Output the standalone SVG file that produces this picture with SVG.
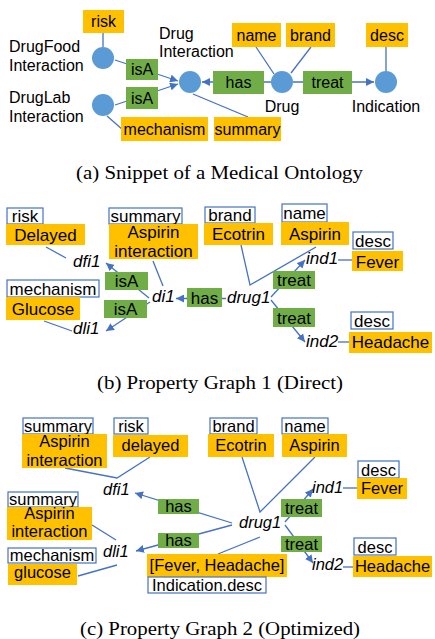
<svg xmlns="http://www.w3.org/2000/svg" width="435" height="639" viewBox="0 0 435 639">
<style>
.o{fill:#FFC000}
.g{fill:#70AD47}
.w{fill:#fff;stroke:#4472C4;stroke-width:1.2}
.c{fill:#5B9BD5}
.ln{stroke:#4472C4;stroke-width:1.3;fill:none}
.ar{marker-end:url(#ah)}
text{font-family:"Liberation Sans",Arial,sans-serif;fill:#000}
.a{font-size:16px}
.b{font-size:17px}
.cc{font-size:16.5px}
.m{text-anchor:middle}
.i{font-style:italic}
.cap{font-family:"Liberation Serif","Times New Roman",serif;font-size:18.5px}
</style>
<defs>
<marker id="ah" viewBox="0 0 10 10" refX="10" refY="5" markerWidth="8" markerHeight="8" markerUnits="userSpaceOnUse" orient="auto">
<path d="M0,0 L10,5 L0,10 z" fill="#4472C4"/>
</marker>
</defs>
<rect width="435" height="639" fill="#fff"/>

<g id="connectors">
<!-- (a) -->
<line class="ln" x1="103" y1="33" x2="103" y2="47"/>
<line class="ln ar" x1="115" y1="60" x2="178" y2="81"/>
<line class="ln ar" x1="115" y1="105" x2="178" y2="84"/>
<line class="ln" x1="107" y1="116" x2="123" y2="130"/>
<line class="ln" x1="193" y1="94" x2="248" y2="117"/>
<line class="ln ar" x1="271" y1="82" x2="202" y2="82"/>
<line class="ln" x1="256" y1="47" x2="274" y2="74"/>
<line class="ln" x1="311" y1="47" x2="291" y2="73"/>
<line class="ln ar" x1="293" y1="82" x2="374" y2="82"/>
<line class="ln" x1="386" y1="47" x2="386" y2="71"/>
<!-- (b) -->
<line class="ln" x1="46" y1="247" x2="66" y2="258"/>
<line class="ln ar" x1="149" y1="298" x2="106" y2="263"/>
<line class="ln ar" x1="150" y1="302" x2="106" y2="331"/>
<line class="ln" x1="44" y1="321" x2="72" y2="331"/>
<line class="ln" x1="153" y1="261" x2="163" y2="286"/>
<line class="ln ar" x1="226" y1="298.5" x2="176" y2="298.5"/>
<polyline class="ln" points="241,245 250,285 316,247"/>
<line class="ln ar" x1="271" y1="297" x2="305" y2="260"/>
<line class="ln ar" x1="271" y1="300" x2="305" y2="342"/>
<line class="ln" x1="338" y1="260" x2="352" y2="260"/>
<line class="ln" x1="338" y1="342" x2="349" y2="342"/>
<!-- (c) -->
<polyline class="ln" points="65,468 117,478 150,457"/>
<line class="ln ar" x1="232" y1="523" x2="135" y2="493"/>
<line class="ln ar" x1="232" y1="525" x2="136" y2="551"/>
<line class="ln" x1="92" y1="525" x2="116" y2="540"/>
<line class="ln" x1="78" y1="576" x2="117" y2="565"/>
<line class="ln" x1="260" y1="537" x2="218" y2="554"/>
<polyline class="ln" points="242,457 260,512 315,457"/>
<line class="ln ar" x1="285" y1="522" x2="313" y2="489"/>
<line class="ln ar" x1="285" y1="525" x2="313" y2="563"/>
<line class="ln" x1="343" y1="488" x2="357" y2="488"/>
<line class="ln" x1="343" y1="567" x2="353" y2="567"/>
</g>

<!-- (a) Medical Ontology -->
<g id="a-risk"><rect class="o" x="83" y="10" width="41" height="23"/><text class="a m" x="103.5" y="27">risk</text></g>
<g id="a-drugfood"><circle class="c" cx="103" cy="58" r="11"/><text class="a" x="9" y="52">DrugFood</text><text class="a" x="9" y="71">Interaction</text></g>
<g id="a-druglab"><circle class="c" cx="103" cy="105" r="11"/><text class="a" x="9" y="103">DrugLab</text><text class="a" x="9" y="122">Interaction</text></g>
<g id="a-isa1"><rect class="g" x="126" y="59" width="32" height="21"/><text class="a m" x="142" y="75">isA</text></g>
<g id="a-isa2"><rect class="g" x="126" y="87" width="32" height="22"/><text class="a m" x="142" y="104">isA</text></g>
<g id="a-mechanism"><rect class="o" x="121" y="117" width="87" height="24"/><text class="a m" x="164.5" y="135">mechanism</text></g>
<g id="a-druginteraction"><circle class="c" cx="190" cy="82" r="11"/><text class="a" x="159" y="39">Drug</text><text class="a" x="159" y="57">Interaction</text></g>
<g id="a-summary"><rect class="o" x="214" y="117" width="67" height="24"/><text class="a m" x="247.5" y="135">summary</text></g>
<g id="a-has"><rect class="g" x="213" y="71" width="51" height="23"/><text class="a m" x="238.5" y="88">has</text></g>
<g id="a-name"><rect class="o" x="232" y="23" width="49" height="24"/><text class="a m" x="256.5" y="41">name</text></g>
<g id="a-brand"><rect class="o" x="286" y="23" width="49" height="24"/><text class="a m" x="310.5" y="41">brand</text></g>
<g id="a-drug"><circle class="c" cx="282" cy="82" r="11"/><text class="a m" x="282" y="112">Drug</text></g>
<g id="a-treat"><rect class="g" x="303" y="71" width="49" height="23"/><text class="a m" x="327.5" y="88">treat</text></g>
<g id="a-desc"><rect class="o" x="366" y="23" width="42" height="24"/><text class="a m" x="387" y="41">desc</text></g>
<g id="a-indication"><circle class="c" cx="386" cy="82" r="11"/><text class="a m" x="386" y="112">Indication</text></g>
<text id="cap-a" class="cap" x="76" y="179" textLength="287" lengthAdjust="spacingAndGlyphs">(a) Snippet of a Medical Ontology</text>

<!-- (b) Property Graph 1 -->
<g id="b-risk"><rect class="w" x="7" y="208" width="36" height="16"/><text class="b m" x="25" y="222">risk</text></g>
<g id="b-delayed"><rect class="o" x="6" y="224" width="79" height="21"/><text class="b m" x="45.5" y="241">Delayed</text></g>
<g id="b-summary"><rect class="w" x="109" y="208" width="73" height="16"/><text class="b m" x="145.5" y="222">summary</text></g>
<g id="b-aspint"><rect class="o" x="109" y="224" width="89" height="35"/><text class="b m" x="153.5" y="238">Aspirin</text><text class="b m" x="153.5" y="257">interaction</text></g>
<g id="b-dfi1"><text class="b i" x="73" y="267">dfi1</text></g>
<g id="b-isa1"><rect class="g" x="105" y="272" width="43" height="18"/><text class="b m" x="126.5" y="287">isA</text></g>
<g id="b-di1"><text class="b i" x="152" y="302">di1</text></g>
<g id="b-isa2"><rect class="g" x="104" y="300" width="43" height="18"/><text class="b m" x="125.5" y="315">isA</text></g>
<g id="b-mechanism"><rect class="w" x="7" y="280" width="92" height="17"/><text class="b m" x="53" y="295">mechanism</text></g>
<g id="b-glucose"><rect class="o" x="6" y="297" width="74" height="23"/><text class="b m" x="43" y="315">Glucose</text></g>
<g id="b-dli1"><text class="b i" x="73" y="334">dli1</text></g>
<g id="b-has"><rect class="g" x="187" y="288" width="35" height="19"/><text class="b m" x="204.5" y="304">has</text></g>
<g id="b-drug1"><text class="b i" x="227" y="303">drug1</text></g>
<g id="b-brand"><rect class="w" x="205" y="207" width="50" height="16"/><text class="b m" x="230" y="221">brand</text></g>
<g id="b-ecotrin"><rect class="o" x="204" y="223" width="69" height="22"/><text class="b m" x="238.5" y="240">Ecotrin</text></g>
<g id="b-name"><rect class="w" x="282" y="204" width="45" height="18"/><text class="b m" x="304.5" y="219">name</text></g>
<g id="b-aspirin"><rect class="o" x="281" y="222" width="68" height="23"/><text class="b m" x="315" y="240">Aspirin</text></g>
<g id="b-desc1"><rect class="w" x="353" y="232" width="40" height="17"/><text class="b m" x="373" y="247">desc</text></g>
<g id="b-fever"><rect class="o" x="352" y="251" width="51" height="20"/><text class="b m" x="377.5" y="268">Fever</text></g>
<g id="b-ind1"><text class="b i" x="306" y="264">ind1</text></g>
<g id="b-treat1"><rect class="g" x="273" y="271" width="42" height="18"/><text class="b m" x="294" y="286">treat</text></g>
<g id="b-treat2"><rect class="g" x="273" y="308" width="42" height="19"/><text class="b m" x="294" y="324">treat</text></g>
<g id="b-ind2"><text class="b i" x="306" y="347">ind2</text></g>
<g id="b-desc2"><rect class="w" x="351" y="312" width="42" height="17"/><text class="b m" x="372" y="327">desc</text></g>
<g id="b-headache"><rect class="o" x="349" y="332" width="83" height="21"/><text class="b m" x="390.5" y="348">Headache</text></g>
<text id="cap-b" class="cap" x="97" y="389" textLength="246" lengthAdjust="spacingAndGlyphs">(b) Property Graph 1 (Direct)</text>

<!-- (c) Property Graph 2 -->
<g id="c-summary1"><rect class="w" x="23" y="418" width="70" height="16"/><text class="cc m" x="58" y="432">summary</text></g>
<g id="c-aspint1"><rect class="o" x="22" y="434" width="85" height="34"/><text class="cc m" x="64.5" y="447">Aspirin</text><text class="cc m" x="64.5" y="466">interaction</text></g>
<g id="c-risk"><rect class="w" x="114" y="418" width="34" height="16"/><text class="cc m" x="131" y="432">risk</text></g>
<g id="c-delayed"><rect class="o" x="113" y="435" width="75" height="22"/><text class="cc m" x="150.5" y="451">delayed</text></g>
<g id="c-dfi1"><text class="cc i" x="103" y="495">dfi1</text></g>
<g id="c-has1"><rect class="g" x="158" y="499" width="41" height="15"/><text class="cc m" x="178.5" y="512">has</text></g>
<g id="c-has2"><rect class="g" x="158" y="533" width="41" height="15"/><text class="cc m" x="178.5" y="546">has</text></g>
<g id="c-summary2"><rect class="w" x="8" y="492" width="70" height="15"/><text class="cc m" x="43" y="505">summary</text></g>
<g id="c-aspint2"><rect class="o" x="7" y="507" width="85" height="33"/><text class="cc m" x="49.5" y="519">Aspirin</text><text class="cc m" x="49.5" y="537">interaction</text></g>
<g id="c-mechanism"><rect class="w" x="8" y="548" width="88" height="15"/><text class="cc m" x="52" y="561">mechanism</text></g>
<g id="c-glucose"><rect class="o" x="8" y="564" width="69" height="21"/><text class="cc m" x="42.5" y="578">glucose</text></g>
<g id="c-dli1"><text class="cc i" x="103" y="557">dli1</text></g>
<g id="c-drug1"><text class="cc i" x="239" y="528">drug1</text></g>
<g id="c-indarr"><rect class="o" x="147" y="554" width="140" height="23"/><text class="cc m" x="217" y="571">[Fever, Headache]</text></g>
<g id="c-inddesc"><rect class="w" x="148" y="577" width="118" height="16"/><text class="cc m" x="207" y="591">Indication.desc</text></g>
<g id="c-brand"><rect class="w" x="210" y="418" width="47" height="16"/><text class="cc m" x="233.5" y="432">brand</text></g>
<g id="c-ecotrin"><rect class="o" x="208" y="434" width="66" height="23"/><text class="cc m" x="241" y="451">Ecotrin</text></g>
<g id="c-name"><rect class="w" x="282" y="418" width="46" height="16"/><text class="cc m" x="305" y="432">name</text></g>
<g id="c-aspirin"><rect class="o" x="282" y="434" width="65" height="23"/><text class="cc m" x="314.5" y="451">Aspirin</text></g>
<g id="c-desc1"><rect class="w" x="358" y="461" width="41" height="17"/><text class="cc m" x="378.5" y="476">desc</text></g>
<g id="c-fever"><rect class="o" x="357" y="478" width="50" height="21"/><text class="cc m" x="382" y="494">Fever</text></g>
<g id="c-ind1"><text class="cc i" x="312" y="493">ind1</text></g>
<g id="c-treat1"><rect class="g" x="281" y="499" width="41" height="18"/><text class="cc m" x="301.5" y="514">treat</text></g>
<g id="c-treat2"><rect class="g" x="281" y="536" width="41" height="16"/><text class="cc m" x="301.5" y="550">treat</text></g>
<g id="c-ind2"><text class="cc i" x="312" y="570">ind2</text></g>
<g id="c-desc2"><rect class="w" x="354" y="538" width="42" height="17"/><text class="cc m" x="375" y="553">desc</text></g>
<g id="c-headache"><rect class="o" x="353" y="556" width="79" height="21"/><text class="cc m" x="392.5" y="572">Headache</text></g>
<text id="cap-c" class="cap" x="80" y="635" textLength="280" lengthAdjust="spacingAndGlyphs">(c) Property Graph 2 (Optimized)</text>
</svg>
